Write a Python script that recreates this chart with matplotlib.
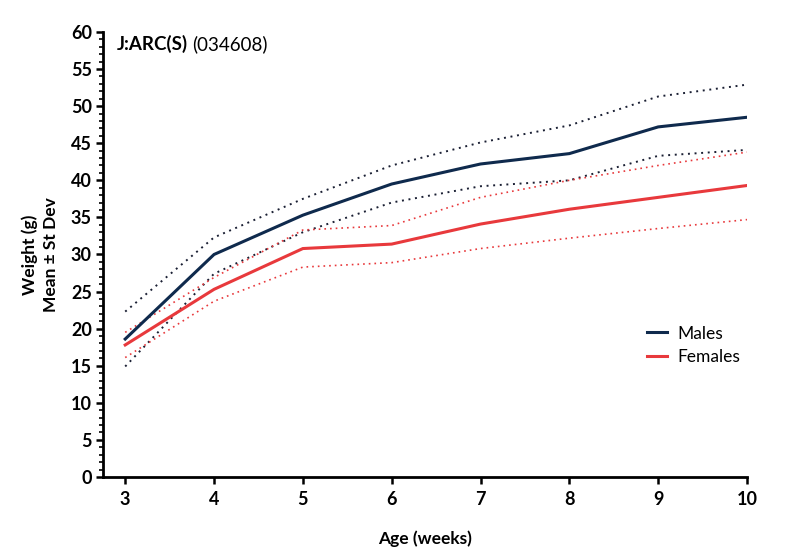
import matplotlib
matplotlib.use("Agg")
import matplotlib.pyplot as plt
from matplotlib.ticker import MultipleLocator

plt.rcParams['font.family'] = ['Lato', 'DejaVu Sans']

weeks = [3, 4, 5, 6, 7, 8, 9, 10]
male_mean = [18.6, 30.0, 35.3, 39.5, 42.2, 43.6, 47.2, 48.5]
male_upper = [22.3, 32.3, 37.5, 42.0, 45.1, 47.4, 51.3, 52.9]
male_lower = [14.9, 27.4, 33.0, 37.0, 39.2, 40.0, 43.3, 44.1]
female_mean = [17.8, 25.3, 30.8, 31.4, 34.1, 36.1, 37.7, 39.3]
female_upper = [19.5, 26.9, 33.3, 33.9, 37.7, 40.0, 42.0, 43.8]
female_lower = [16.1, 23.7, 28.3, 28.9, 30.8, 32.2, 33.5, 34.7]

male_color = '#0f2a4d'
male_dot = '#1a1f33'
female_color = '#e8393c'

fig = plt.figure(figsize=(8, 5.58), dpi=100)
ax = fig.add_axes([0.12875, 0.1452, 0.805, 0.7975])

ax.plot(weeks, male_upper, linestyle=(0, (1, 2.4)), color=male_dot, lw=1.4)
ax.plot(weeks, male_lower, linestyle=(0, (1, 2.4)), color=male_dot, lw=1.4)
ax.plot(weeks, female_upper, linestyle=(0, (1, 2.4)), color=female_color, lw=1.2)
ax.plot(weeks, female_lower, linestyle=(0, (1, 2.4)), color=female_color, lw=1.2)
ax.plot(weeks, male_mean, color=male_color, lw=2.2, label='Males', solid_joinstyle='miter')
ax.plot(weeks, female_mean, color=female_color, lw=2.2, label='Females', solid_joinstyle='miter')

ax.set_xlim(2.75, 10)
ax.set_ylim(0, 60)
ax.set_xticks(weeks)
ax.yaxis.set_major_locator(MultipleLocator(5))
ax.yaxis.set_minor_locator(MultipleLocator(1))

for s in ['top', 'right']:
    ax.spines[s].set_visible(False)
for s in ['left', 'bottom']:
    ax.spines[s].set_linewidth(2.0)
    ax.spines[s].set_color('black')

ax.tick_params(axis='both', which='major', length=5, width=1.8, labelsize=13, pad=3)
ax.tick_params(axis='y', which='minor', length=3, width=1.2)
for lab in ax.get_xticklabels() + ax.get_yticklabels():
    lab.set_fontweight('bold')
ax.tick_params(axis='x', pad=5)

ax.set_xlabel('Age (weeks)', fontsize=12.5, fontweight='bold', labelpad=16)
fig.text(0.050, 0.543, 'Weight (g)\nMean \u00b1 St Dev', rotation=90, ha='center', va='center',
         fontsize=12.5, fontweight='bold', linespacing=1.4, multialignment='center')

t1 = fig.text(0.146, 0.921, 'J:ARC(S)', fontsize=13.5, fontweight='bold', ha='left', va='center')
fig.canvas.draw()
bb = t1.get_window_extent(renderer=fig.canvas.get_renderer())
x2 = (bb.x1 + 4) / fig.bbox.width
fig.text(x2, 0.921, '(034608)', fontsize=13.5, ha='left', va='center')

leg = ax.legend(loc='center left', bbox_to_anchor=(0.845, 0.2955), frameon=False,
                fontsize=12.5, handlelength=1.15, handletextpad=0.6, labelspacing=0.45,
                borderpad=0, borderaxespad=0)

fig.savefig('out.png', dpi=100)
